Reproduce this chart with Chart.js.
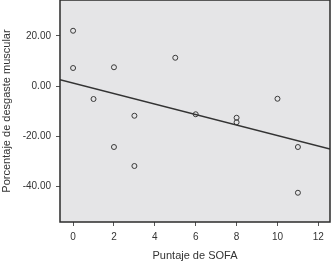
<!DOCTYPE html>
<html>
<head>
<meta charset="utf-8">
<script src="https://cdn.jsdelivr.net/npm/chart.js@4/dist/chart.umd.min.js"></script>
<style>
  html, body { margin: 0; padding: 0; background: #fff; }
  #wrap { width: 331px; height: 263px; position: relative; }
</style>
</head>
<body>
<div id="wrap"><canvas id="chart"></canvas></div>
<script>
// SOFA score vs muscle wasting percentage
const sofaScores = [0, 0, 2, 5, 1, 3, 2, 3, 6, 8, 8, 10, 11, 11];
const wastingPct = [22.1, 7.2, 7.5, 11.3, -5.2, -11.9, -24.4, -32.0, -11.3, -12.7, -14.5, -5.1, -24.4, -42.7];

// fitted line, read at both edges of the plot
const fitX = [-0.64, 12.57];
const fitY = [2.5, -25.2];

const xTicks = [0, 2, 4, 6, 8, 10, 12];
const yTicks = [-40, -20, 0, 20];

const plotFrame = {
  id: 'plotFrame',
  beforeDraw(chart) {
    const { ctx, chartArea: a } = chart;
    ctx.save();
    ctx.fillStyle = '#e5e5e7';
    ctx.fillRect(a.left, a.top, a.right - a.left, a.bottom - a.top);
    ctx.restore();
  },
  afterDraw(chart) {
    const { ctx, chartArea: a } = chart;
    ctx.save();
    ctx.strokeStyle = '#2b2b2b';
    ctx.lineWidth = 1.5;
    ctx.strokeRect(a.left, a.top, a.right - a.left, a.bottom - a.top);
    ctx.restore();
  },
};

const tickFont = { family: 'Liberation Sans, Arial, sans-serif', size: 10 };
const titleFont = { family: 'Liberation Sans, Arial, sans-serif', size: 11 };

new Chart(document.getElementById('chart'), {
  type: 'scatter',
  data: {
    datasets: [
      {
        data: sofaScores.map((x, i) => ({ x, y: wastingPct[i] })),
        pointRadius: 2.5,
        pointBorderWidth: 1,
        pointBorderColor: '#3a3a3a',
        pointBackgroundColor: 'rgba(0,0,0,0)',
        showLine: false,
      },
      {
        data: fitX.map((x, i) => ({ x, y: fitY[i] })),
        showLine: true,
        borderColor: '#333',
        borderWidth: 1.3,
        pointRadius: 0,
      },
    ],
  },
  options: {
    responsive: true,
    maintainAspectRatio: false,
    animation: false,
    layout: { autoPadding: false, padding: { top: 0, right: 1, left: 0, bottom: 0 } },
    plugins: {
      legend: { display: false },
      tooltip: { enabled: false },
    },
    scales: {
      x: {
        type: 'linear',
        min: -0.64,
        max: 12.57,
        afterBuildTicks: (axis) => { axis.ticks = xTicks.map((value) => ({ value })); },
        afterFit: (axis) => {
          axis.height = 41;
          axis.paddingLeft = 0;
          axis.paddingRight = 0;
        },
        grid: { drawOnChartArea: false, drawTicks: true, tickLength: 4, color: '#555' },
        border: { display: false },
        ticks: {
          color: '#333',
          padding: 5,
          maxRotation: 0,
          font: tickFont,
          callback: (v) => v,
        },
        title: {
          display: true,
          text: 'Puntaje de SOFA',
          color: '#333',
          padding: { top: 5, bottom: 0 },
          font: titleFont,
        },
      },
      y: {
        min: -54.4,
        max: 34.4,
        afterBuildTicks: (axis) => { axis.ticks = yTicks.map((value) => ({ value })); },
        afterFit: (axis) => {
          axis.width = 60;
          axis.paddingTop = 0;
          axis.paddingBottom = 0;
        },
        grid: { drawOnChartArea: false, drawTicks: true, tickLength: 4, color: '#555' },
        border: { display: false },
        ticks: {
          color: '#333',
          padding: 5,
          font: tickFont,
          callback: (v) => Number(v).toFixed(2),
        },
        title: {
          display: true,
          text: 'Porcentaje de desgaste muscular',
          color: '#333',
          padding: { top: 0, bottom: 2 },
          font: titleFont,
        },
      },
    },
  },
  plugins: [plotFrame],
});
</script>
</body>
</html>
